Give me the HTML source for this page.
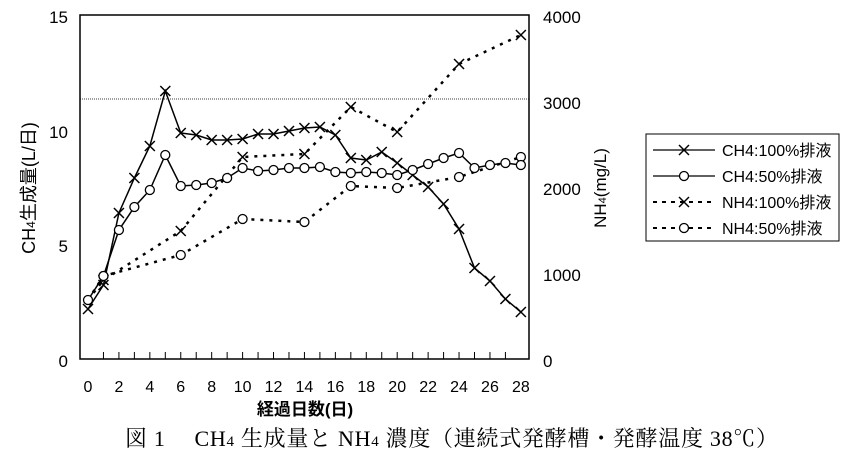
<!DOCTYPE html>
<html><head><meta charset="utf-8"><style>
body{margin:0;background:#fff;width:857px;height:453px;overflow:hidden}
svg{display:block}
.t{font-family:"Liberation Sans","Noto Sans CJK JP",sans-serif;fill:#000}
.s{font-family:"Liberation Serif","Noto Serif CJK SC",serif;fill:#000}
</style></head><body>
<svg id="c" width="857" height="453" viewBox="0 0 857 453" xmlns="http://www.w3.org/2000/svg">
<rect x="80" y="15" width="449" height="344" fill="none" stroke="#000" stroke-width="1.5"/>
<line x1="80" y1="99" x2="529" y2="99" stroke="#000" stroke-width="0.8" stroke-dasharray="1,1"/>
<g class="t" font-size="17" text-anchor="end">
<text x="68" y="23">15</text><text x="68" y="138">10</text><text x="68" y="252">5</text><text x="68" y="367">0</text>
</g>
<g class="t" font-size="17" text-anchor="start">
<text x="543" y="23">4000</text><text x="543" y="109">3000</text><text x="543" y="195">2000</text><text x="543" y="281">1000</text><text x="543" y="367">0</text>
</g>
<g class="t" font-size="16" text-anchor="middle" id="xl"></g>
<text class="t" font-size="18" transform="translate(35,188) rotate(-90)" text-anchor="middle">CH<tspan font-size="12">4</tspan>生成量(L/日)</text>
<text class="t" font-size="17" transform="translate(606,188) rotate(-90)" text-anchor="middle">NH<tspan font-size="11">4</tspan>(mg/L)</text>
<text class="t" font-size="17" font-weight="bold" x="305" y="415" text-anchor="middle">経過日数(日)</text>
<text class="s" font-size="22" x="125" y="446" textLength="653" lengthAdjust="spacing">図 1　 CH<tspan font-size="15">4</tspan> 生成量と NH<tspan font-size="15">4</tspan> 濃度（連続式発酵槽・発酵温度 38℃）</text>
<rect x="646" y="134" width="193" height="107" fill="#fff" stroke="#000" stroke-width="1"/>
<g class="t" font-size="16">
<text x="722" y="156">CH4:100%排液</text>
<text x="722" y="182">CH4:50%排液</text>
<text x="722" y="208">NH4:100%排液</text>
<text x="722" y="234">NH4:50%排液</text>
</g>
<g id="d"></g>
</svg>
<script>
const X=d=>88+d*15.46;
const a=[309,285,213,178,146,91,133,135,140,140,139,134,134,131,128,127,135,158,160,152,163,175,187,204,229,268,281,299,312];
const b=[300,276,230,207,190,155,186,185,183,178,168,171,170,168,168,167,172,173,172,173,175,170,164,158,153,168,165,163,165];
const c=[[0,300],[1,280],[6,231],[10,157],[14,154],[17,107],[20,132],[24,64],[28,35]];
const e=[[0,300],[1,276],[6,255],[10,219],[14,222],[17,186],[20,188],[24,177],[28,157]];
let s='';
for(let i=1;i<28;i++){s+=`<line x1="${X(i)}" y1="359" x2="${X(i)}" y2="352" stroke="#000"/>`;}
let xl='';for(let i=0;i<=28;i+=2)xl+=`<text x="${X(i)}" y="392">${i}</text>`;
document.getElementById('xl').innerHTML=xl;
const xm=(x,y)=>`<path d="M${x-5},${y-5}L${x+5},${y+5}M${x-5},${y+5}L${x+5},${y-5}" stroke="#000" stroke-width="1.5"/>`;
const om=(x,y)=>`<circle cx="${x}" cy="${y}" r="4.5" fill="#fff" stroke="#000" stroke-width="1.3"/>`;
const pl=(pts,dash)=>`<polyline points="${pts.map(p=>p.join(',')).join(' ')}" fill="none" stroke="#000" stroke-width="${dash?2.5:1.5}" ${dash?'stroke-dasharray="3,6"':''}/>`;
const A=a.map((y,i)=>[X(i),y]),B=b.map((y,i)=>[X(i),y]),C=c.map(p=>[X(p[0]),p[1]]),E=e.map(p=>[X(p[0]),p[1]]);
s+=pl(C,1)+pl(E,1)+pl(A,0)+pl(B,0);
C.slice(1).forEach(p=>s+=xm(...p));E.slice(1).forEach(p=>s+=om(...p));
A.forEach(p=>s+=xm(...p));B.forEach(p=>s+=om(...p));
s+=`<line x1="653" y1="150" x2="715" y2="150" stroke="#000" stroke-width="1.3"/>`+xm(684,150);
s+=`<line x1="653" y1="176" x2="715" y2="176" stroke="#000" stroke-width="1.3"/>`+om(684,176);
s+=`<line x1="653" y1="202" x2="715" y2="202" stroke="#000" stroke-width="2" stroke-dasharray="4,5"/>`+xm(684,202);
s+=`<line x1="653" y1="228" x2="715" y2="228" stroke="#000" stroke-width="2" stroke-dasharray="4,5"/>`+om(684,228);
document.getElementById('d').innerHTML=s;
</script>
</body></html>
